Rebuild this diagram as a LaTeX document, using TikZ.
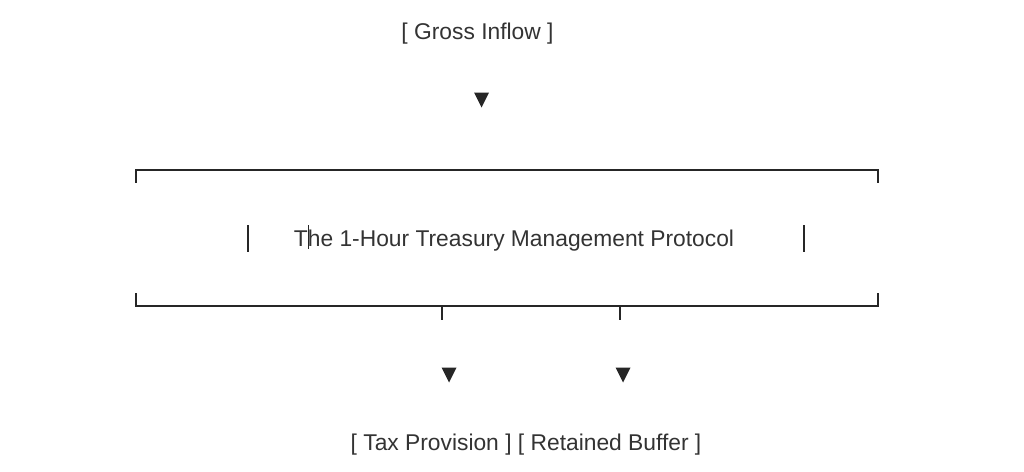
\documentclass[tikz,border=0pt]{standalone}
\usepackage{fontspec}
\setmainfont{Liberation Sans}
\definecolor{ink}{HTML}{262626}
\definecolor{txt}{HTML}{333333}
\begin{document}
\begin{tikzpicture}[x=1pt,y=-1pt,
  lbl/.style={inner sep=0pt,text=txt,font=\fontsize{22.8}{27}\selectfont},
  brk/.style={draw=ink,line width=2pt},
  thin/.style={draw=ink,line width=1pt},
  tri/.style={fill=ink}]
\useasboundingbox (0,0) rectangle (1024,471);
% texts
\node[lbl] (gross) at (477.5,34) {[ Gross Inflow ]};
\node[lbl] (proto) at (514,241) {The 1-Hour Treasury Management Protocol};
\node[lbl] (out) at (526,445) {[ Tax Provision ] [ Retained Buffer ]};
% arrowheads
\coordinate (a1) at (481.5,100);
\coordinate (a2) at (449,375);
\coordinate (a3) at (623,375);
\foreach \c in {a1,a2,a3}
  \fill[tri] ([shift={(-7.5,-7.5)}]\c) -- ([shift={(7.5,-7.5)}]\c) -- ([shift={(0,7.5)}]\c) -- cycle;
% top bracket
\coordinate (tl) at (135.5,170);
\coordinate (tr) at (878,170);
\draw[brk] ([shift={(0,12.5)}]tl) -- (tl) -- (tr) -- ([shift={(0,12.5)}]tr);
% bottom bracket
\coordinate (bl) at (135.5,305.5);
\coordinate (br) at (878,305.5);
\draw[brk] ([shift={(0,-12.5)}]bl) -- (bl) -- (br) -- ([shift={(0,-12.5)}]br);
\coordinate (d1) at (442,305.5);
\coordinate (d2) at (620,305.5);
\draw[brk] (d1) -- ([shift={(0,14)}]d1);
\draw[brk] (d2) -- ([shift={(0,14)}]d2);
% inner bars
\coordinate (il) at (247.5,225);
\coordinate (ir) at (803.5,225);
\draw[brk] (il) -- ([shift={(0,26.5)}]il);
\draw[brk] (ir) -- ([shift={(0,26.5)}]ir);
\coordinate (cur) at (308,225);
\draw[thin] (cur) -- ([shift={(0,24)}]cur);
\end{tikzpicture}
\end{document}
